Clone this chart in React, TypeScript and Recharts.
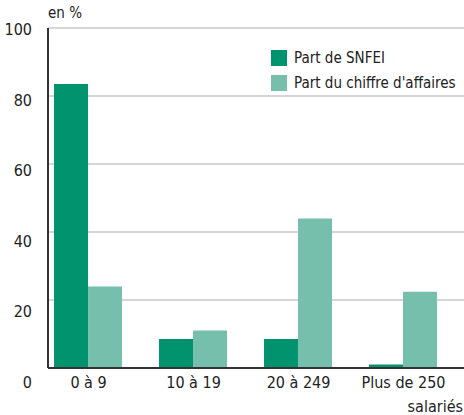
import { Bar, BarChart, CartesianGrid, XAxis, YAxis } from 'recharts'

const categories = ['0 à 9', '10 à 19', '20 à 249', 'Plus de 250']
const partSnfei = [83.5, 8.5, 8.5, 1]
const partChiffre = [24, 11, 44, 22.4]
const yTicks = [0, 20, 40, 60, 80, 100]

const data = categories.map((name, i) => ({
  pos: i,
  name,
  snfei: partSnfei[i],
  ca: partChiffre[i],
}))

const FONT = "'DejaVu Sans Condensed', 'Liberation Sans Narrow', sans-serif"
const DARK = '#00936e'
const LIGHT = '#76bfad'

function XTick(props: any) {
  const { x, y, payload } = props
  const label = categories[payload.value] ?? ''
  const last = payload.value === categories.length - 1
  return (
    <g>
      <text x={x} y={y + 12} textAnchor="middle" fontSize={16} fill="#222" fontFamily={FONT}>
        {label}
      </text>
      {last && (
        <text x={463} y={y + 36} textAnchor="end" fontSize={16} fill="#222" fontFamily={FONT}>
          salariés
        </text>
      )}
    </g>
  )
}

function YTick(props: any) {
  const { y, payload } = props
  const shift = 1 + ((100 - payload.value) / 100) * 13
  return (
    <text x={32} y={y + shift + 6} textAnchor="end" fontSize={16} fill="#222" fontFamily={FONT}>
      {payload.value}
    </text>
  )
}

const legendRows = [
  { label: 'Part de SNFEI', color: DARK },
  { label: "Part du chiffre d'affaires", color: LIGHT },
]

export default function App() {
  return (
    <div style={{ position: 'absolute', left: 0, top: 0, width: 464, height: 415, background: '#fff' }}>
      <span
        style={{ position: 'absolute', left: 48, top: 4, fontFamily: FONT, fontSize: 15, color: '#222' }}
      >
        en %
      </span>
      <div
        style={{
          position: 'absolute',
          left: 271,
          top: 45,
          fontFamily: FONT,
          fontSize: 15,
          color: '#222',
          whiteSpace: 'nowrap',
          zIndex: 2,
        }}
      >
        {legendRows.map((r) => (
          <div key={r.label} style={{ display: 'flex', alignItems: 'center', height: 25 }}>
            <span style={{ display: 'inline-block', width: 16, height: 16, background: r.color, marginRight: 7 }} />
            <span>{r.label}</span>
          </div>
        ))}
      </div>
      <BarChart
        width={464}
        height={415}
        data={data}
        margin={{ top: 28, right: 0, bottom: 0, left: 0 }}
        barGap={0}
      >
        <CartesianGrid horizontal vertical={false} stroke="#c8c8c8" strokeWidth={1.5} />
        <XAxis
          dataKey="pos"
          type="number"
          domain={[-0.386, 3.576]}
          ticks={[0, 1, 2, 3]}
          allowDataOverflow
          axisLine={{ stroke: '#333', strokeWidth: 2 }}
          tickLine={false}
          tick={<XTick />}
          height={47}
          interval={0}
        />
        <YAxis
          type="number"
          domain={[0, 100]}
          ticks={yTicks}
          width={48}
          axisLine={{ stroke: '#333', strokeWidth: 2 }}
          tickLine={false}
          tick={<YTick />}
        />
        <Bar dataKey="snfei" name="Part de SNFEI" fill={DARK} barSize={34} isAnimationActive={false} />
        <Bar dataKey="ca" name="Part du chiffre d'affaires" fill={LIGHT} barSize={34} isAnimationActive={false} />
      </BarChart>
    </div>
  )
}
